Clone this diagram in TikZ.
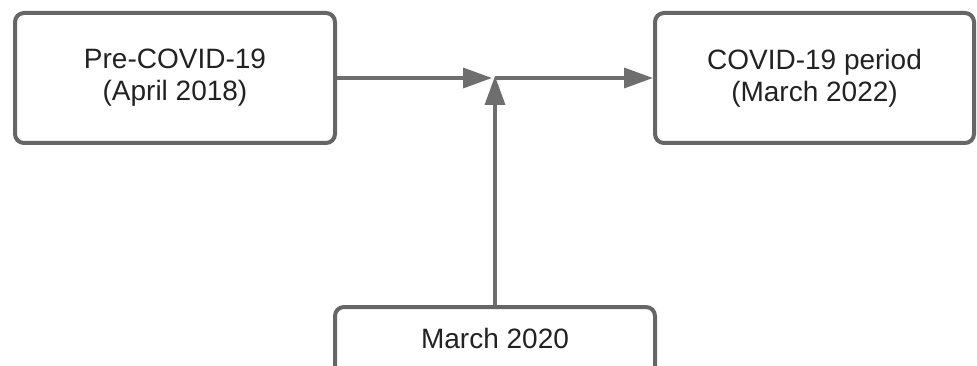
\documentclass[tikz,border=0pt]{standalone}
\usepackage{fontspec}
\setmainfont{Liberation Sans}
\usetikzlibrary{arrows.meta}
\definecolor{boxgray}{HTML}{666666}
\definecolor{arrgray}{HTML}{6E6E6E}
\definecolor{txt}{HTML}{222222}
\begin{document}
\begin{tikzpicture}[x=1pt,y=-1pt,
  box/.style={draw=boxgray,line width=4pt,rounded corners=9pt,fill=white,
    text=txt,align=center,font=\fontsize{28}{32}\selectfont,inner sep=0pt},
  conn/.style={draw=arrgray,line width=3.5pt,-{Triangle[length=29pt,width=20pt]}}]
\useasboundingbox (0,0) rectangle (977,366);
\node[box,minimum width=320pt,minimum height=130pt] (pre) at (175,78) {Pre-COVID-19\\(April 2018)};
\node[box,minimum width=319pt,minimum height=130pt] (post) at (814.5,78) {COVID-19 period\\(March 2022)};
\node[box,minimum width=320pt,minimum height=70pt,anchor=north] (mar) at (495,305) {};
\node[text=txt,font=\fontsize{28}{32}\selectfont,inner sep=0pt] (martxt) at (495,338) {March 2020};
\coordinate (j) at (495,78);
\draw[conn] (pre.east) -- ([xshift=-3pt]j);
\draw[conn] (j) -- (post.west);
\draw[conn] (mar.north) -- ([yshift=2pt]j);
\end{tikzpicture}
\end{document}
